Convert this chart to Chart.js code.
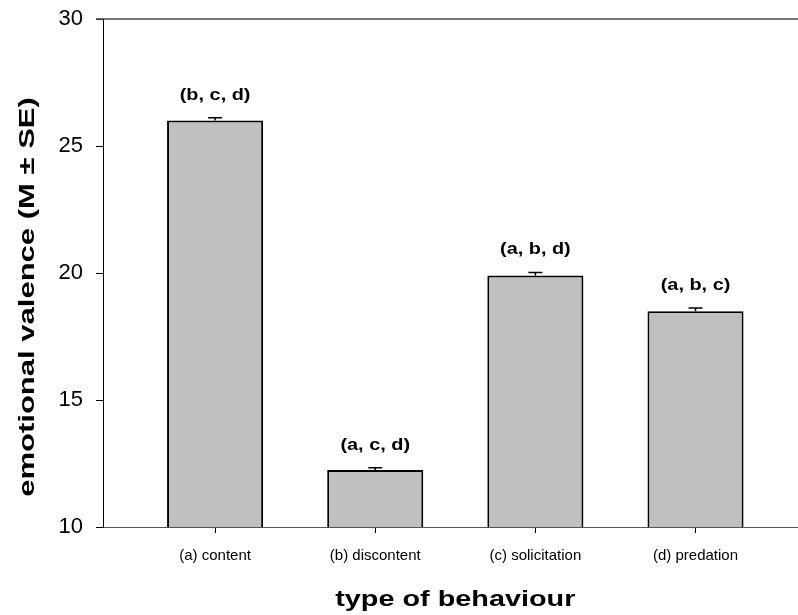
<!DOCTYPE html>
<html>
<head>
<meta charset="utf-8">
<script src="https://cdn.jsdelivr.net/npm/chart.js@4.4.1/dist/chart.umd.min.js"></script>
<style>
    html, body { margin: 0; padding: 0; background: #ffffff; }
    #wrap { width: 798px; height: 615px; position: relative; }
</style>
</head>
<body>
<div id="wrap"><canvas id="valenceChart" width="798" height="615"></canvas></div>
<script>
const categories = ["(a) content", "(b) discontent", "(c) solicitation", "(d) predation"];
const means = [26.0, 12.24, 19.9, 18.49];
const standardErrors = [0.11, 0.09, 0.12, 0.13];
const significance = ["(b, c, d)", "(a, c, d)", "(a, b, d)", "(a, b, c)"];
const yTicks = [10, 15, 20, 25, 30];

const FONT = "'Liberation Sans', Arial, Helvetica, sans-serif";

// draws text squeezed/stretched along its own direction
function drawStretched(ctx, text, x, y, size, stretch, angle) {
    ctx.save();
    ctx.translate(x, y);
    ctx.rotate(angle || 0);
    ctx.scale(stretch, 1);
    ctx.font = "bold " + size + "px " + FONT;
    ctx.fillStyle = "#000000";
    ctx.textAlign = "center";
    ctx.textBaseline = "alphabetic";
    ctx.fillText(text, 0, 0);
    ctx.restore();
}

const extrasPlugin = {
    id: "extras",
    afterDatasetsDraw(chart) {
        const ctx = chart.ctx;
        const yScale = chart.scales.y;
        const area = chart.chartArea;
        const meta = chart.getDatasetMeta(0);

        // error bars (upper only) and significance letters
        meta.data.forEach((bar, i) => {
            const top = yScale.getPixelForValue(means[i] + standardErrors[i]);
            ctx.save();
            ctx.strokeStyle = "#000000";
            ctx.lineWidth = 1.5;
            ctx.beginPath();
            ctx.moveTo(bar.x, bar.y);
            ctx.lineTo(bar.x, top);
            ctx.moveTo(bar.x - 7, top);
            ctx.lineTo(bar.x + 7, top);
            ctx.stroke();
            ctx.restore();
            drawStretched(ctx, significance[i], bar.x, top - 18, 17, 1.17, 0);
        });

        // top frame line
        ctx.save();
        ctx.strokeStyle = "#444444";
        ctx.lineWidth = 1.5;
        ctx.beginPath();
        ctx.moveTo(area.left - 7, area.top);
        ctx.lineTo(area.right, area.top);
        ctx.stroke();
        ctx.restore();

        // axis titles
        const first = meta.data[0];
        const last = meta.data[meta.data.length - 1];
        drawStretched(ctx, "type of behaviour", (first.x + last.x) / 2, 606, 22, 1.31, 0);
        drawStretched(ctx, "emotional valence (M \u00B1 SE)", 34, 297, 22, 1.41, -Math.PI / 2);
    }
};

new Chart(document.getElementById("valenceChart"), {
    type: "bar",
    data: {
        datasets: [
            {
                data: means.map((m, i) => ({ x: i + 1, y: m })),
                backgroundColor: "#c0c0c0",
                borderColor: "#000000",
                borderWidth: 2,
                borderSkipped: "bottom",
                barPercentage: 0.6,
                categoryPercentage: 1,
            },
        ],
    },
    options: {
        responsive: false,
        animation: false,
        devicePixelRatio: 1,
        layout: { padding: { top: 19, right: 0, left: 0, bottom: 0 } },
        plugins: {
            legend: { display: false },
            tooltip: { enabled: false },
        },
        scales: {
            x: {
                type: "linear",
                min: 0.3,
                max: 4.64,
                offset: false,
                afterBuildTicks: (scale) => {
                    scale.ticks = categories.map((c, i) => ({ value: i + 1 }));
                },
                afterFit: (scale) => {
                    scale.height = 88;
                    scale.paddingLeft = 0;
                    scale.paddingRight = 0;
                },
                ticks: {
                    callback: (value) => categories[value - 1],
                    font: { family: FONT, size: 15 },
                    color: "#000000",
                    padding: 14,
                    maxRotation: 0,
                },
                grid: {
                    offset: false,
                    drawOnChartArea: false,
                    tickLength: 6,
                    color: "#000000",
                },
                border: { color: "#555555", width: 1 },
            },
            y: {
                min: 10,
                max: 30,
                afterBuildTicks: (scale) => {
                    scale.ticks = yTicks.map((v) => ({ value: v }));
                },
                afterFit: (scale) => {
                    scale.width = 103;
                    scale.paddingTop = 0;
                    scale.paddingBottom = 0;
                },
                ticks: {
                    font: { family: FONT, size: 22 },
                    color: "#000000",
                    padding: 13,
                },
                grid: {
                    drawOnChartArea: false,
                    tickLength: 7,
                    color: "#000000",
                },
                border: { color: "#000000", width: 1 },
            },
        },
    },
    plugins: [extrasPlugin],
});
</script>
</body>
</html>
